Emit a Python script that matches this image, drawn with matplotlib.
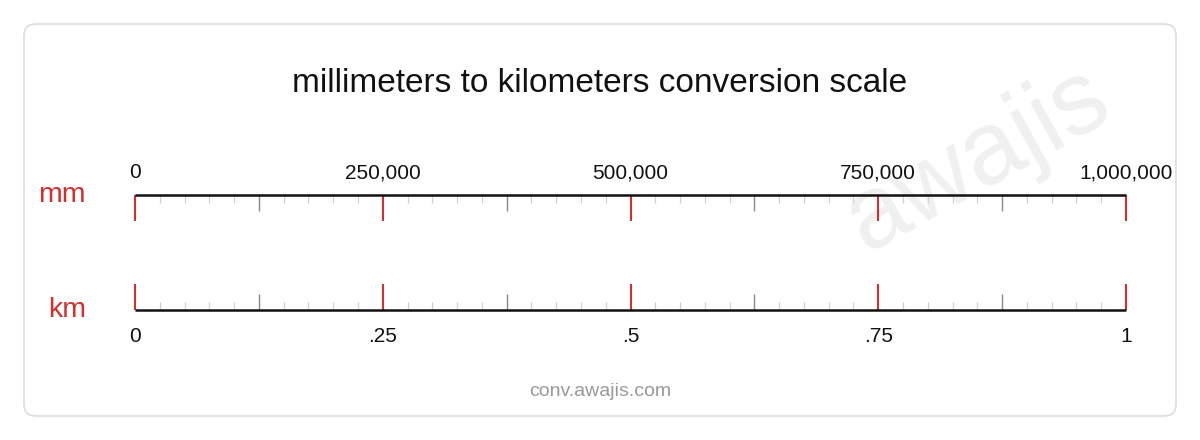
import numpy as np
import matplotlib
matplotlib.use("Agg")
import matplotlib.pyplot as plt
from matplotlib.patches import FancyBboxPatch

plt.rcParams['font.family'] = ['Liberation Sans', 'DejaVu Sans']

# data
title = "millimeters to kilometers conversion scale"
top_unit = "mm"
bottom_unit = "km"
major_vals = [0, 0.25, 0.5, 0.75, 1.0]
mm_labels = ["0", "250,000", "500,000", "750,000", "1,000,000"]
km_labels = ["0", ".25", ".5", ".75", "1"]
mid_vals = [0.125, 0.375, 0.625, 0.875]
minor_step = 0.025

RED = "#d32f2f"
W, H = 1200, 440

fig = plt.figure(figsize=(12, 4.4), dpi=100)
fig.patch.set_facecolor("white")

# background axes in pixel coords
bg = fig.add_axes([0, 0, 1, 1])
bg.set_xlim(0, W)
bg.set_ylim(H, 0)
bg.axis("off")

frame = FancyBboxPatch((24, 24), 1152, 392, boxstyle="round,pad=0,rounding_size=12",
                       fc="white", ec="#dddddd", lw=1.2)
bg.add_patch(frame)

# watermark
bg.text(978, 160, "awajis", fontsize=74, color="#f0f0f0", rotation=29,
        ha="center", va="center", zorder=1)

bg.text(600, 83, title, fontsize=24, color="#111111", ha="center", va="center")
bg.text(600, 391, "conv.awajis.com", fontsize=14, color="#999999", ha="center", va="center")
bg.text(86, 195, top_unit, fontsize=20.5, color=RED, ha="right", va="center")
bg.text(86, 310, bottom_unit, fontsize=20.5, color=RED, ha="right", va="center")

# scale axes: x in units 0..1, y in pixels
ax = fig.add_axes([135 / W, 0, 991 / W, 1])
ax.set_xlim(0, 1)
ax.set_ylim(H, 0)
ax.axis("off")
ax.patch.set_alpha(0)

top_y, bot_y = 195, 310
minor_vals = [v for v in np.arange(0, 1.0001, minor_step)
              if min(abs(v - m) for m in major_vals + mid_vals) > 1e-6]

for y0, sgn in [(top_y, 1), (bot_y, -1)]:
    ax.vlines(minor_vals, y0, y0 + sgn * 8, colors="#d0d0d0", lw=0.9, zorder=2, clip_on=False)
    ax.vlines(mid_vals, y0, y0 + sgn * 16, colors="#888888", lw=1.0, zorder=2, clip_on=False)
    ax.vlines(major_vals, y0, y0 + sgn * 26, colors=RED, lw=1.5, zorder=3, clip_on=False)
    ax.plot([0, 1], [y0, y0], color="#111111", lw=1.8, solid_capstyle="butt", zorder=4,
            clip_on=False)

for v, lab in zip(major_vals, mm_labels):
    ax.text(v, 173, lab, fontsize=15, color="#111111", ha="center", va="center", clip_on=False)
for v, lab in zip(major_vals, km_labels):
    ax.text(v, 337, lab, fontsize=15, color="#111111", ha="center", va="center", clip_on=False)

fig.savefig("out.png", dpi=100, facecolor="white")
